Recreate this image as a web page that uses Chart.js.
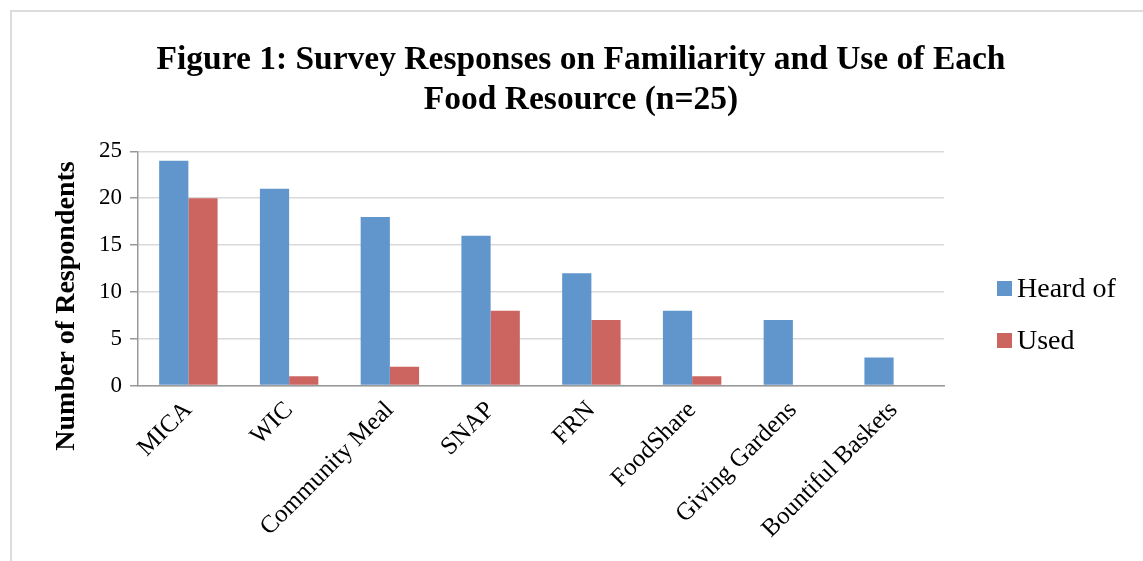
<!DOCTYPE html>
<html>
<head>
<meta charset="utf-8">
<script src="https://cdn.jsdelivr.net/npm/chart.js@4.4.1/dist/chart.umd.min.js"></script>
<style>
  html, body { margin: 0; padding: 0; background: #fff; }
  #frame {
    position: absolute; left: 10px; top: 10px; width: 1133px; height: 551px;
    border-top: 2px solid #dcdcdc; border-left: 2px solid #dcdcdc;
  }
  canvas { display: block; }
  #legend {
    position: absolute; left: 985px; top: 262px; margin: 0; padding: 0; list-style: none;
    font-family: "Liberation Serif", "DejaVu Serif", serif; font-size: 28px; color: #000;
  }
  #legend li { display: flex; align-items: center; height: 28px; margin-bottom: 24px; }
  #legend span.box { display: inline-block; width: 15px; height: 15px; margin-right: 5px; }
</style>
</head>
<body>
<div id="frame"><canvas id="chart" width="1131" height="549"></canvas><ul id="legend"></ul></div>
<script>
// Survey data
const categories = ['MICA', 'WIC', 'Community Meal', 'SNAP', 'FRN', 'FoodShare', 'Giving Gardens', 'Bountiful Baskets'];
const heardOf = [24, 21, 18, 16, 12, 8, 7, 3];
const used = [20, 1, 2, 8, 7, 1, 0, 0];
const yTicks = [0, 5, 10, 15, 20, 25];
const titleLines = ['Figure 1: Survey Responses on Familiarity and Use of Each', 'Food Resource (n=25)'];
const yTitle = 'Number of Respondents';

const serif = '"Liberation Serif", "DejaVu Serif", serif';

// draws the rotated y axis title
const yTitlePlugin = {
  id: 'yTitle',
  afterDraw(chart) {
    const ctx = chart.ctx;
    ctx.save();
    ctx.translate(55, 294);
    ctx.rotate(-Math.PI / 2);
    ctx.font = 'bold 28px ' + serif;
    ctx.fillStyle = '#000';
    ctx.textAlign = 'center';
    ctx.textBaseline = 'middle';
    ctx.fillText(yTitle, 0, 0);
    ctx.restore();
  }
};

const ctx = document.getElementById('chart').getContext('2d');
const chart = new Chart(ctx, {
  type: 'bar',
  data: {
    labels: categories,
    datasets: [
      { label: 'Heard of', data: heardOf, backgroundColor: '#6096cb', borderWidth: 0 },
      { label: 'Used', data: used, backgroundColor: '#cc6560', borderWidth: 0 }
    ]
  },
  options: {
    responsive: false,
    animation: false,
    layout: { padding: { left: 10, right: 3, top: 16, bottom: 13 } },
    datasets: { bar: { categoryPercentage: 0.58, barPercentage: 1 } },
    plugins: {
      title: {
        display: true,
        text: titleLines,
        color: '#000',
        font: { family: serif, size: 33.5, weight: 'bold', lineHeight: 1.2 },
        padding: { top: 12, bottom: 31 }
      },
      legend: { display: false },
      tooltip: { enabled: false }
    },
    scales: {
      x: {
        grid: { display: false, tickLength: 6 },
        border: { color: '#999', width: 1.5 },
        ticks: {
          color: '#000',
          font: { family: serif, size: 25 },
          minRotation: 45,
          maxRotation: 45,
          padding: 4
        }
      },
      y: {
        min: 0,
        max: 25,
        afterBuildTicks: (axis) => { axis.ticks = yTicks.map(v => ({ value: v })); },
        afterFit: (scale) => { scale.width = 116; },
        grid: { color: '#d9d9d9', lineWidth: 1.5, tickLength: 8, tickColor: '#999' },
        border: { color: '#999', width: 1.5 },
        ticks: {
          color: '#000',
          font: { family: serif, size: 23 },
          padding: 8
        }
      },
      // empty right-hand box that leaves room for the legend
      legendSpace: {
        position: 'right',
        grid: { display: false },
        border: { display: false },
        ticks: { display: false },
        afterFit: (scale) => { scale.width = 196; }
      }
    }
  },
  plugins: [yTitlePlugin]
});

// HTML legend built from the datasets
const legendEl = document.getElementById('legend');
chart.data.datasets.forEach(ds => {
  const li = document.createElement('li');
  const box = document.createElement('span');
  box.className = 'box';
  box.style.background = ds.backgroundColor;
  li.appendChild(box);
  li.appendChild(document.createTextNode(ds.label));
  legendEl.appendChild(li);
});
</script>
</body>
</html>
